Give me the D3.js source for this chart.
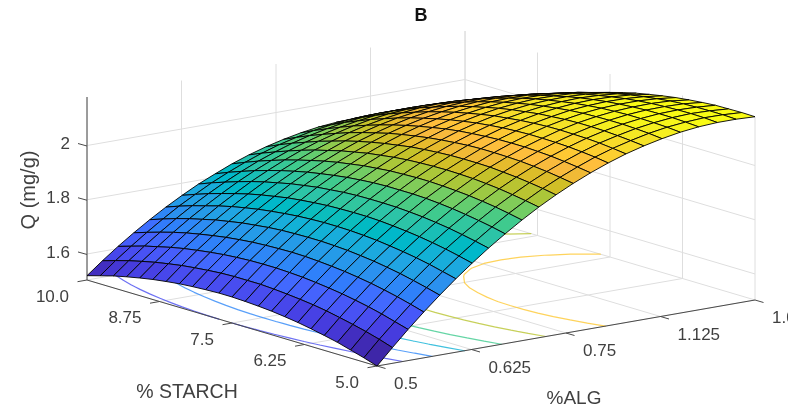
<!DOCTYPE html>
<html>
<head>
<meta charset="utf-8">
<script src="https://cdn.jsdelivr.net/npm/d3@7"></script>
<style>
	html, body { margin: 0; padding: 0; background: #fff; overflow: hidden; }
	svg { display: block; filter: blur(0.35px); }
	text { font-family: "Liberation Sans", Arial, sans-serif; fill: #404040; }
</style>
</head>
<body>
<div id="chart"></div>
<script>
// grid the surface was sampled on, the alg spacing opens up towards 1.0 in the picture
var algLevels = [0.5, 0.5204, 0.5411, 0.5619, 0.583, 0.6043, 0.6258, 0.6475, 0.6695, 0.6917, 0.714, 0.7367, 0.7595, 0.7825, 0.8058, 0.8293, 0.853, 0.877, 0.9011, 0.9255, 0.9501, 0.9749, 1];
var starchLevels = [5, 5.227, 5.455, 5.682, 5.909, 6.136, 6.364, 6.591, 6.818, 7.045, 7.273, 7.5, 7.727, 7.955, 8.182, 8.409, 8.636, 8.864, 9.091, 9.318, 9.545, 9.773, 10];

// Q, one row per starch level, one column per alg level
var qValues = [
	[1.504,1.562,1.619,1.673,1.725,1.775,1.822,1.867,1.909,1.949,1.986,2.020,2.051,2.079,2.104,2.126,2.144,2.159,2.171,2.179,2.183,2.183,2.180],
	[1.520,1.578,1.633,1.687,1.738,1.787,1.834,1.878,1.920,1.959,1.995,2.029,2.059,2.086,2.111,2.132,2.149,2.164,2.175,2.182,2.186,2.185,2.181],
	[1.534,1.592,1.647,1.700,1.750,1.799,1.845,1.888,1.929,1.968,2.003,2.036,2.066,2.092,2.116,2.137,2.153,2.167,2.177,2.184,2.187,2.185,2.180],
	[1.548,1.604,1.659,1.711,1.761,1.809,1.854,1.897,1.937,1.975,2.010,2.042,2.071,2.097,2.120,2.140,2.156,2.169,2.178,2.184,2.186,2.184,2.179],
	[1.559,1.615,1.669,1.721,1.770,1.817,1.862,1.904,1.944,1.981,2.015,2.046,2.075,2.100,2.122,2.141,2.157,2.169,2.178,2.183,2.184,2.182,2.175],
	[1.569,1.625,1.678,1.729,1.778,1.824,1.868,1.910,1.949,1.985,2.019,2.050,2.077,2.102,2.123,2.142,2.157,2.168,2.176,2.180,2.181,2.178,2.170],
	[1.578,1.633,1.685,1.736,1.784,1.830,1.873,1.914,1.953,1.988,2.021,2.051,2.078,2.102,2.123,2.141,2.155,2.166,2.173,2.176,2.176,2.172,2.164],
	[1.585,1.639,1.691,1.741,1.789,1.834,1.877,1.917,1.955,1.990,2.022,2.051,2.078,2.101,2.121,2.138,2.151,2.162,2.168,2.171,2.170,2.165,2.156],
	[1.591,1.644,1.696,1.745,1.792,1.837,1.879,1.918,1.955,1.990,2.021,2.050,2.076,2.098,2.118,2.134,2.147,2.156,2.162,2.164,2.162,2.157,2.147],
	[1.595,1.648,1.699,1.748,1.794,1.838,1.879,1.918,1.955,1.988,2.019,2.047,2.072,2.094,2.113,2.128,2.140,2.149,2.154,2.156,2.153,2.147,2.137],
	[1.598,1.651,1.701,1.749,1.794,1.838,1.878,1.917,1.953,1.986,2.016,2.043,2.067,2.089,2.107,2.122,2.133,2.141,2.145,2.146,2.143,2.136,2.125],
	[1.600,1.651,1.701,1.748,1.793,1.836,1.876,1.914,1.949,1.981,2.011,2.038,2.061,2.082,2.099,2.113,2.124,2.131,2.135,2.134,2.131,2.123,2.111],
	[1.600,1.651,1.700,1.746,1.791,1.833,1.872,1.909,1.944,1.976,2.004,2.030,2.053,2.073,2.090,2.103,2.113,2.120,2.123,2.122,2.117,2.109,2.096],
	[1.598,1.649,1.697,1.743,1.787,1.828,1.867,1.904,1.937,1.968,1.997,2.022,2.044,2.063,2.079,2.092,2.101,2.107,2.109,2.108,2.102,2.093,2.080],
	[1.595,1.645,1.693,1.738,1.781,1.822,1.861,1.896,1.929,1.960,1.987,2.012,2.034,2.052,2.067,2.079,2.088,2.093,2.094,2.092,2.086,2.076,2.062],
	[1.591,1.640,1.687,1.732,1.775,1.815,1.852,1.888,1.920,1.950,1.977,2.001,2.021,2.039,2.054,2.065,2.073,2.077,2.078,2.075,2.068,2.057,2.043],
	[1.585,1.634,1.680,1.724,1.766,1.806,1.843,1.877,1.909,1.938,1.964,1.988,2.008,2.025,2.039,2.049,2.056,2.060,2.060,2.056,2.049,2.037,2.022],
	[1.578,1.626,1.672,1.715,1.757,1.796,1.832,1.866,1.897,1.925,1.951,1.973,1.993,2.009,2.022,2.032,2.039,2.042,2.041,2.036,2.028,2.016,2.000],
	[1.569,1.617,1.662,1.705,1.745,1.784,1.819,1.853,1.883,1.911,1.936,1.958,1.976,1.992,2.005,2.014,2.019,2.022,2.020,2.015,2.006,1.993,1.976],
	[1.559,1.606,1.650,1.693,1.733,1.770,1.805,1.838,1.868,1.895,1.919,1.940,1.958,1.973,1.985,1.994,1.999,2.000,1.998,1.992,1.982,1.969,1.951],
	[1.548,1.594,1.638,1.679,1.719,1.756,1.790,1.822,1.851,1.878,1.901,1.922,1.939,1.953,1.965,1.972,1.977,1.977,1.974,1.968,1.957,1.943,1.924],
	[1.534,1.580,1.623,1.664,1.703,1.740,1.773,1.805,1.833,1.859,1.882,1.902,1.918,1.932,1.942,1.949,1.953,1.953,1.949,1.942,1.931,1.916,1.896],
	[1.520,1.565,1.608,1.648,1.686,1.722,1.755,1.786,1.813,1.839,1.861,1.880,1.896,1.909,1.919,1.925,1.928,1.927,1.923,1.915,1.903,1.887,1.867]
];

// ticks, the 1.125 is really what the picture prints at 0.875
var algTicks = [0.5, 0.625, 0.75, 0.875, 1];
var algTickLabels = ["0.5", "0.625", "0.75", "1.125", "1.0"];
var starchTicks = [10, 8.75, 7.5, 6.25, 5];
var starchTickLabels = ["10.0", "8.75", "7.5", "6.25", "5.0"];
var qTicks = [1.6, 1.8, 2];
var qTickLabels = ["1.6", "1.8", "2"];
var contourLevels = [1.6, 1.7, 1.8, 1.9, 2, 2.1];

var parula = [
	[0.2422,0.1504,0.6603],[0.2504,0.1650,0.7076],[0.2578,0.1818,0.7511],[0.2647,0.1978,0.7952],
	[0.2706,0.2147,0.8364],[0.2751,0.2342,0.8710],[0.2783,0.2559,0.8991],[0.2803,0.2782,0.9221],
	[0.2813,0.3006,0.9414],[0.2810,0.3228,0.9579],[0.2795,0.3447,0.9717],[0.2760,0.3667,0.9829],
	[0.2699,0.3892,0.9906],[0.2602,0.4123,0.9952],[0.2440,0.4358,0.9988],[0.2206,0.4603,0.9973],
	[0.1963,0.4847,0.9892],[0.1834,0.5074,0.9798],[0.1786,0.5289,0.9682],[0.1764,0.5499,0.9520],
	[0.1687,0.5703,0.9359],[0.1540,0.5902,0.9218],[0.1460,0.6091,0.9079],[0.1380,0.6276,0.8973],
	[0.1248,0.6459,0.8883],[0.1113,0.6635,0.8763],[0.0952,0.6798,0.8598],[0.0689,0.6948,0.8394],
	[0.0297,0.7082,0.8163],[0.0036,0.7203,0.7917],[0.0067,0.7312,0.7660],[0.0433,0.7411,0.7394],
	[0.0964,0.7500,0.7120],[0.1408,0.7584,0.6842],[0.1717,0.7670,0.6554],[0.1938,0.7758,0.6251],
	[0.2161,0.7843,0.5923],[0.2470,0.7918,0.5567],[0.2906,0.7973,0.5188],[0.3406,0.8008,0.4789],
	[0.3909,0.8029,0.4354],[0.4456,0.8024,0.3909],[0.5044,0.7993,0.3480],[0.5616,0.7942,0.3045],
	[0.6174,0.7876,0.2612],[0.6720,0.7793,0.2227],[0.7242,0.7698,0.1910],[0.7738,0.7598,0.1646],
	[0.8203,0.7498,0.1535],[0.8634,0.7406,0.1596],[0.9035,0.7330,0.1774],[0.9393,0.7288,0.2100],
	[0.9728,0.7298,0.2394],[0.9956,0.7434,0.2371],[0.9970,0.7659,0.2199],[0.9952,0.7861,0.1999],
	[0.9892,0.8136,0.1885],[0.9786,0.8386,0.1766],[0.9676,0.8639,0.1643],[0.9610,0.8890,0.1537],
	[0.9597,0.9135,0.1423],[0.9628,0.9373,0.1265],[0.9691,0.9606,0.1064],[0.9769,0.9839,0.0805]
];

var width = 788,
	height = 407,
	originX = 87,
	originY = 280;

var svg = d3.select("#chart")
	.append("svg")
	.attr("width", width)
	.attr("height", height);

var qExtent = d3.extent(qValues.flat());
var qFloor = 1.504,
	qTop = 2.179;

// the box is drawn in parallel projection, so each data axis gets its own pair of pixel scales
var algX = d3.scaleLinear().domain([0.5, 1]).range([0, 378]);
var algY = d3.scaleLinear().domain([0.5, 1]).range([0, -66]);
var starchX = d3.scaleLinear().domain([10, 5]).range([0, 290]);
var starchY = d3.scaleLinear().domain([10, 5]).range([0, 86]);
var qY = d3.scaleLinear().domain([qFloor, qTop]).range([0, -183]);

function project(alg, starch, q) {
	return [
		originX + algX(alg) + starchX(starch),
		originY + algY(alg) + starchY(starch) + qY(q)
	];
}

var colorIndex = d3.scaleQuantize()
	.domain(qExtent)
	.range(d3.range(parula.length));

function qColor(q) {
	var c = parula[colorIndex(q)];
	return d3.rgb(c[0] * 255, c[1] * 255, c[2] * 255).formatHex();
}

var line = d3.line();

function segment(a, b) {
	return line([a, b]);
}

// floor and back wall grid
var grid = svg.append("g")
	.attr("fill", "none")
	.attr("stroke", "#dedede")
	.attr("stroke-width", 1);

var gridPaths = [];
algTicks.forEach(function (a) {
	gridPaths.push(segment(project(a, 10, qFloor), project(a, 5, qFloor)));
	gridPaths.push(segment(project(a, 10, qFloor), project(a, 10, qTop)));
});
starchTicks.forEach(function (s) {
	gridPaths.push(segment(project(0.5, s, qFloor), project(1, s, qFloor)));
	gridPaths.push(segment(project(1, s, qFloor), project(1, s, qTop)));
});
qTicks.forEach(function (q) {
	gridPaths.push(line([project(0.5, 10, q), project(1, 10, q), project(1, 5, q)]));
});

grid.selectAll("path")
	.data(gridPaths)
	.enter()
	.append("path")
	.attr("d", function (d) {
		return d;
	});

// contours projected on the floor
function crossing(i, j, i2, j2, level) {
	var v1 = qValues[j][i],
		v2 = qValues[j2][i2];
	if ((v1 < level) === (v2 < level)) return null;
	var f = (level - v1) / (v2 - v1);
	return project(
		algLevels[i] + f * (algLevels[i2] - algLevels[i]),
		starchLevels[j] + f * (starchLevels[j2] - starchLevels[j]),
		qFloor
	);
}

function contourPath(level) {
	var d = "";
	for (var j = 0; j < starchLevels.length - 1; j++) {
		for (var i = 0; i < algLevels.length - 1; i++) {
			var pts = [
				crossing(i, j, i + 1, j, level),
				crossing(i + 1, j, i + 1, j + 1, level),
				crossing(i + 1, j + 1, i, j + 1, level),
				crossing(i, j + 1, i, j, level)
			].filter(function (p) {
				return p !== null;
			});
			if (pts.length >= 2) d += segment(pts[0], pts[1]);
			if (pts.length === 4) d += segment(pts[2], pts[3]);
		}
	}
	return d;
}

svg.append("g")
	.selectAll("path")
	.data(contourLevels)
	.enter()
	.append("path")
	.attr("fill", "none")
	.attr("stroke-width", 1.2)
	.attr("stroke-linecap", "round")
	.attr("stroke-opacity", 0.8)
	.attr("stroke", function (d) {
		return qColor(d);
	})
	.attr("d", contourPath);

// axis lines and ticks
var axisColor = "#4a4a4a";
var axes = svg.append("g")
	.attr("fill", "none")
	.attr("stroke", axisColor)
	.attr("stroke-width", 1);

axes.append("path").attr("d", line([project(0.5, 10, qFloor), project(0.5, 5, qFloor), project(1, 5, qFloor)]));

axes.selectAll("path.starchTick")
	.data(starchTicks)
	.enter()
	.append("path")
	.attr("class", "starchTick")
	.attr("d", function (d) {
		var p = project(0.5, d, qFloor);
		return segment(p, [p[0] - 9.5, p[1] + 1.7]);
	});

axes.selectAll("path.algTick")
	.data(algTicks)
	.enter()
	.append("path")
	.attr("class", "algTick")
	.attr("d", function (d) {
		var p = project(d, 5, qFloor);
		return segment(p, [p[0] + 8.5, p[1] + 2.5]);
	});

// the q axis is an ordinary left axis with its ticks tilted along the box
var qAxisScale = d3.scaleLinear().domain([qFloor, qTop]).range([originY, originY - 183]);
var qAxis = svg.append("g")
	.attr("transform", "translate(" + originX + ",0)")
	.call(d3.axisLeft(qAxisScale)
		.tickValues(qTicks)
		.tickFormat(function (d, i) {
			return qTickLabels[i];
		}));

qAxis.select(".domain")
	.attr("stroke", axisColor)
	.attr("d", "M0," + qAxisScale(qTop) + "V" + qAxisScale(qFloor));
qAxis.selectAll(".tick line")
	.attr("stroke", axisColor)
	.attr("x2", -9)
	.attr("y2", -2.5);
qAxis.selectAll(".tick text")
	.attr("x", -17)
	.attr("dy", "0.18em")
	.style("font-size", "17px")
	.style("font-family", "'Liberation Sans', Arial, sans-serif")
	.attr("fill", "#404040");

// surface, far cells first so the near ones paint over them
var cells = [];
for (var j = starchLevels.length - 2; j >= 0; j--) {
	for (var i = algLevels.length - 2; i >= 0; i--) {
		cells.push({ i: i, j: j });
	}
}

svg.append("g")
	.selectAll("path")
	.data(cells)
	.enter()
	.append("path")
	.attr("stroke", "#000")
	.attr("stroke-width", 0.9)
	.attr("stroke-linejoin", "round")
	.attr("fill", function (d) {
		return qColor(qValues[d.j][d.i]);
	})
	.attr("d", function (d) {
		var i = d.i,
			j = d.j;
		return line([
			project(algLevels[i], starchLevels[j], qValues[j][i]),
			project(algLevels[i + 1], starchLevels[j], qValues[j][i + 1]),
			project(algLevels[i + 1], starchLevels[j + 1], qValues[j + 1][i + 1]),
			project(algLevels[i], starchLevels[j + 1], qValues[j + 1][i])
		]) + "Z";
	});

// tick labels
svg.append("g")
	.selectAll("text")
	.data(starchTicks)
	.enter()
	.append("text")
	.attr("text-anchor", "end")
	.style("font-size", "17px")
	.attr("x", function (d) {
		return project(0.5, d, qFloor)[0] - 18;
	})
	.attr("y", function (d) {
		return project(0.5, d, qFloor)[1] + 21.5;
	})
	.text(function (d, i) {
		return starchTickLabels[i];
	});

svg.append("g")
	.selectAll("text")
	.data(algTicks)
	.enter()
	.append("text")
	.style("font-size", "17px")
	.attr("x", function (d) {
		return project(d, 5, qFloor)[0] + 17;
	})
	.attr("y", function (d) {
		return project(d, 5, qFloor)[1] + 23;
	})
	.text(function (d, i) {
		return algTickLabels[i];
	});

// axis labels and title
svg.append("text")
	.attr("text-anchor", "middle")
	.attr("x", 187)
	.attr("y", 398)
	.style("font-size", "19.5px")
	.text("% STARCH");

svg.append("text")
	.attr("text-anchor", "middle")
	.attr("x", 574)
	.attr("y", 404)
	.style("font-size", "19px")
	.text("%ALG");

svg.append("text")
	.attr("text-anchor", "middle")
	.attr("transform", "translate(35,190) rotate(-90)")
	.style("font-size", "20px")
	.text("Q (mg/g)");

svg.append("text")
	.attr("text-anchor", "middle")
	.attr("x", 421)
	.attr("y", 21)
	.style("font-size", "18px")
	.style("font-weight", "bold")
	.style("fill", "#111")
	.text("B");
</script>
</body>
</html>
